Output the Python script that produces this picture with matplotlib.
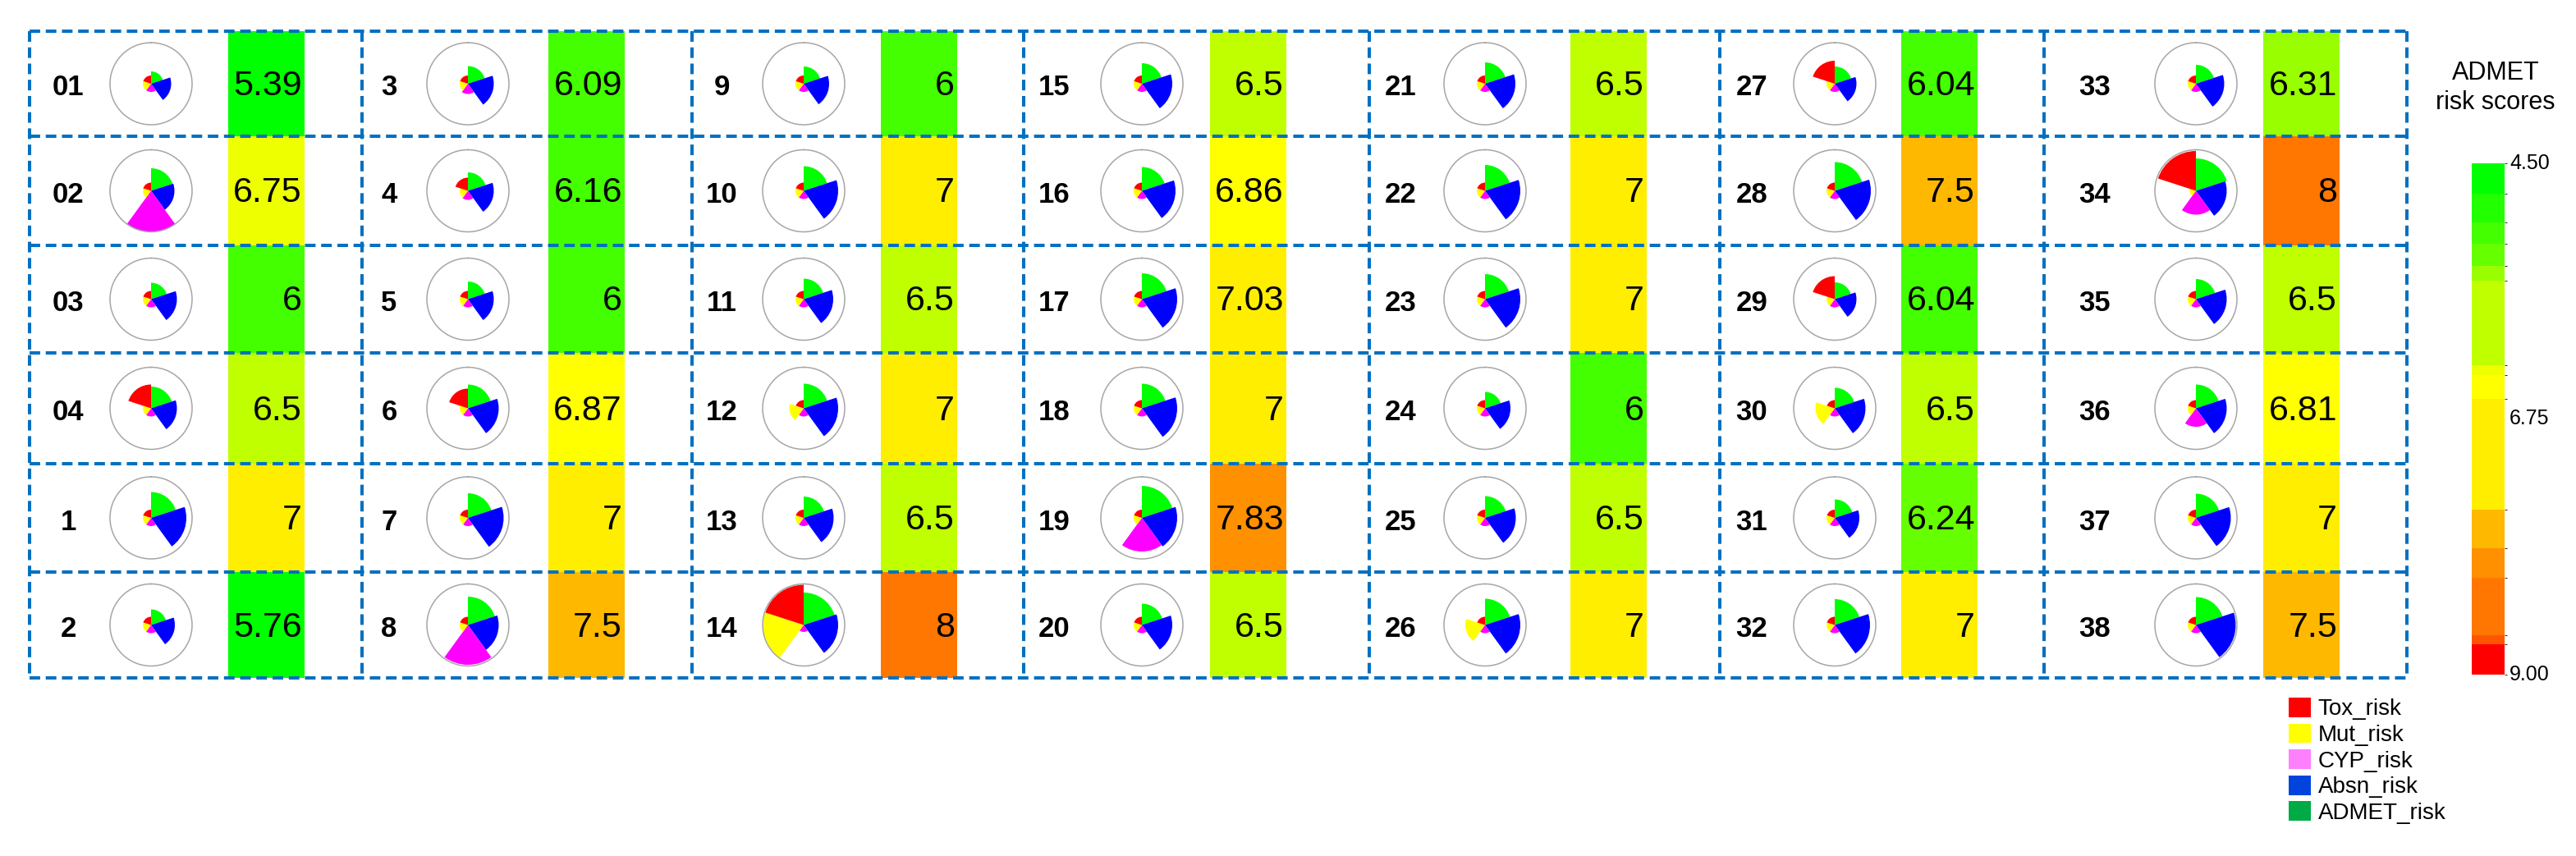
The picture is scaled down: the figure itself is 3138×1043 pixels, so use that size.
import numpy as np
import matplotlib
matplotlib.use("Agg")
import matplotlib.pyplot as plt
from matplotlib.colors import ListedColormap, BoundaryNorm
from matplotlib.cm import ScalarMappable
from matplotlib.patches import Patch

plt.rcParams["font.family"] = ["Liberation Sans", "DejaVu Sans"]

# ---------- DATA ----------
labels = ["01", "02", "03", "04", "1", "2",
          "3", "4", "5", "6", "7", "8",
          "9", "10", "11", "12", "13", "14",
          "15", "16", "17", "18", "19", "20",
          "21", "22", "23", "24", "25", "26",
          "27", "28", "29", "30", "31", "32",
          "33", "34", "35", "36", "37", "38"]

admet_scores = [5.39, 6.75, 6, 6.5, 7, 5.76,
                6.09, 6.16, 6, 6.87, 7, 7.5,
                6, 7, 6.5, 7, 6.5, 8,
                6.5, 6.86, 7.03, 7, 7.83, 6.5,
                6.5, 7, 7, 6, 6.5, 7,
                6.04, 7.5, 6.04, 6.5, 6.24, 7,
                6.31, 8, 6.5, 6.81, 7, 7.5]

# relative wedge radii (1 = outer circle)
tox_r = [0.2, 0.2, 0.2, 0.58, 0.2, 0.2,
         0.2, 0.32, 0.2, 0.48, 0.2, 0.2,
         0.2, 0.2, 0.2, 0.2, 0.2, 0.98,
         0.2, 0.2, 0.2, 0.2, 0.2, 0.2,
         0.2, 0.2, 0.2, 0.2, 0.2, 0.2,
         0.56, 0.2, 0.56, 0.2, 0.2, 0.2,
         0.2, 0.97, 0.2, 0.2, 0.2, 0.2]
mut_r = [0.2, 0.2, 0.2, 0.2, 0.2, 0.2,
         0.2, 0.2, 0.2, 0.2, 0.2, 0.2,
         0.2, 0.2, 0.2, 0.35, 0.2, 0.99,
         0.2, 0.2, 0.2, 0.2, 0.2, 0.2,
         0.2, 0.2, 0.2, 0.2, 0.2, 0.48,
         0.2, 0.2, 0.2, 0.47, 0.2, 0.2,
         0.2, 0.15, 0.2, 0.2, 0.2, 0.2]
cyp_r = [0.2, 1.0, 0.2, 0.2, 0.2, 0.2,
         0.25, 0.22, 0.2, 0.2, 0.2, 0.97,
         0.2, 0.2, 0.2, 0.2, 0.2, 0.17,
         0.2, 0.2, 0.2, 0.2, 0.82, 0.2,
         0.2, 0.2, 0.2, 0.2, 0.2, 0.2,
         0.2, 0.2, 0.2, 0.2, 0.2, 0.2,
         0.2, 0.58, 0.2, 0.45, 0.2, 0.2]
absn_r = [0.49, 0.57, 0.63, 0.63, 0.86, 0.58,
          0.63, 0.63, 0.63, 0.75, 0.87, 0.75,
          0.62, 0.84, 0.72, 0.84, 0.73, 0.84,
          0.74, 0.82, 0.86, 0.86, 0.86, 0.74,
          0.74, 0.86, 0.86, 0.62, 0.75, 0.86,
          0.53, 0.88, 0.53, 0.75, 0.6, 0.86,
          0.69, 0.75, 0.75, 0.75, 0.85, 0.97]
admet_r = [0.3, 0.55, 0.4, 0.53, 0.63, 0.38,
           0.43, 0.45, 0.43, 0.58, 0.6, 0.69,
           0.42, 0.6, 0.5, 0.6, 0.52, 0.79,
           0.5, 0.58, 0.63, 0.6, 0.78, 0.52,
           0.52, 0.63, 0.61, 0.4, 0.53, 0.64,
           0.42, 0.7, 0.41, 0.5, 0.45, 0.63,
           0.46, 0.79, 0.49, 0.58, 0.59, 0.68]

risk_names = ["Tox_risk", "Mut_risk", "CYP_risk", "Absn_risk", "ADMET_risk"]
legend_colors = ["#FF0000", "#FFFF00", "#FF80FF", "#0044DD", "#00AA44"]
# wedges clockwise from 12 o'clock: ADMET, Absn, CYP, Mut, Tox
wedge_colors = ["#00FF00", "#0000FF", "#FF00FF", "#FFFF00", "#FF0000"]

# score colour bands
band_colors = ["#00FF00", "#22FF00", "#44FF00", "#66FF00", "#99FF00",
               "#BFFF00", "#EEFF00", "#FFFF00", "#FFEE00", "#FFB800",
               "#FF9000", "#FF7700", "#FF5500", "#FF0000"]
cbar_bounds = [4.5, 4.77, 5.02, 5.21, 5.40, 5.53, 6.28, 6.36, 6.57,
               7.55, 7.89, 8.15, 8.65, 8.73, 9.0]
bar_bounds = [4.5, 5.8, 5.95, 6.2, 6.3, 6.4, 6.7, 6.78, 6.95,
              7.4, 7.7, 7.9, 8.3, 8.7, 9.0]
cbar_ticks = [4.5, 6.75, 9.0]

# ---------- LAYOUT (pixels) ----------
W, H = 3138, 1043
N_ROWS = 6
row_edges = [38, 166, 299, 430, 565, 697, 826]
col_edges = [36, 441, 843, 1247, 1668, 2095, 2490, 2932]
label_x = [83, 474, 879, 1284, 1706, 2134, 2552]
pie_x = [184, 570, 979, 1391, 1809, 2235, 2675]
bar_x = [278, 668, 1073, 1474, 1913, 2316, 2757]
BAR_W = 93
PIE_R = 50

fig = plt.figure(figsize=(W / 100, H / 100), dpi=100)
ax = fig.add_axes([0, 0, 1, 1])
ax.set_xlim(0, W)
ax.set_ylim(H, 0)
ax.axis("off")

cmap = ListedColormap(band_colors)
bar_norm = BoundaryNorm(bar_bounds, cmap.N)

tops = row_edges[:-1]
heights = np.diff(row_edges)
theta0 = np.arange(5) * 2 * np.pi / 5

for c in range(len(pie_x)):
    vals = admet_scores[c * N_ROWS:(c + 1) * N_ROWS]
    ax.bar(bar_x[c], heights, width=BAR_W, bottom=tops, align="edge",
           color=cmap(bar_norm(vals)), zorder=1)
    for r in range(N_ROWS):
        k = c * N_ROWS + r
        yc = (row_edges[r] + row_edges[r + 1]) / 2
        ax.text(label_x[c], yc + 5, labels[k], ha="center", va="center",
                fontsize=25, fontweight="bold")
        ax.text(bar_x[c] + BAR_W - 3, yc + 3, f"{admet_scores[k]:g}",
                ha="right", va="center", fontsize=31, zorder=4)

        pax = fig.add_axes([(pie_x[c] - PIE_R) / W, 1 - (yc + PIE_R) / H,
                            2 * PIE_R / W, 2 * PIE_R / H], projection="polar")
        radii = [admet_r[k], absn_r[k], cyp_r[k], mut_r[k], tox_r[k]]
        pax.bar(theta0, radii, width=2 * np.pi / 5, bottom=0, align="edge",
                color=wedge_colors, edgecolor="none", linewidth=0)
        pax.set_theta_zero_location("N")
        pax.set_theta_direction(-1)
        pax.set_ylim(0, 1)
        pax.set_xticks([])
        pax.set_yticks([])
        pax.grid(False)
        pax.set_facecolor("none")
        pax.spines["polar"].set_edgecolor("#A6A6A6")
        pax.spines["polar"].set_linewidth(1.1)

# dashed grid
ax.hlines(row_edges, col_edges[0], col_edges[-1], colors="#0070C0",
          linewidth=2.9, linestyles=(0, (3.2, 1.7)), zorder=3)
ax.vlines(col_edges, row_edges[0], row_edges[-1], colors="#0070C0",
          linewidth=2.9, linestyles=(0, (3.2, 1.7)), zorder=3)

# ---------- COLORBAR ----------
cax = fig.add_axes([3011 / W, 1 - 822 / H, 40 / W, 623 / H])
cb = fig.colorbar(ScalarMappable(norm=BoundaryNorm(cbar_bounds, cmap.N), cmap=cmap),
                  cax=cax, spacing="proportional")
cb.outline.set_visible(False)
cb.set_ticks([])
cax.invert_yaxis()
for t in cbar_ticks:
    cax.text(1.15, t, f"{t:.2f}", transform=cax.get_yaxis_transform(),
             ha="left", va="center", fontsize=18)
fig.text(3040 / W, 1 - 107 / H, "ADMET\nrisk scores", ha="center", va="center",
         fontsize=22, linespacing=1.3)

# ---------- LEGEND ----------
handles = [Patch(facecolor=col, edgecolor="none", label=n)
           for n, col in zip(risk_names, legend_colors)]
fig.legend(handles=handles, loc="upper left",
           bbox_to_anchor=(2788 / W, 1 - 850 / H), frameon=False, fontsize=20,
           handlelength=0.97, handleheight=0.94, handletextpad=0.32,
           labelspacing=0.15, borderpad=0, borderaxespad=0)

fig.savefig("out.png", dpi=100)
